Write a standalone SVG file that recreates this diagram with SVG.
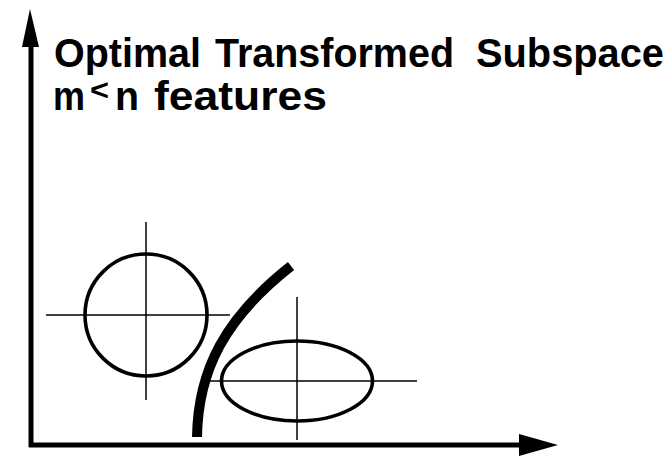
<svg xmlns="http://www.w3.org/2000/svg" width="672" height="456" viewBox="0 0 672 456">
<style>
.t{font-family:"Liberation Sans",Arial,sans-serif;font-weight:bold;fill:#000;font-size:40px}
.cross{stroke:#000;stroke-width:1.5;fill:none}
.shape{stroke:#000;stroke-width:3.6;fill:none}
.axis{stroke:#000;stroke-width:5;fill:none}
</style>
<rect width="672" height="456" fill="#fff"/>
<g id="axes">
<line class="axis" x1="31" y1="36" x2="31" y2="447"/>
<polygon points="30,9 22,47 39,47" fill="#000"/>
<line class="axis" x1="29" y1="445" x2="525" y2="445"/>
<polygon points="558,445 519,434 519,456" fill="#000"/>
</g>
<g id="title">
<text class="t" x="54" y="67" textLength="147" lengthAdjust="spacingAndGlyphs">Optimal</text>
<text class="t" x="215" y="67" textLength="239" lengthAdjust="spacingAndGlyphs">Transformed</text>
<text class="t" x="476" y="67" textLength="188" lengthAdjust="spacingAndGlyphs">Subspace</text>
<text class="t" x="53" y="110" textLength="32" lengthAdjust="spacingAndGlyphs">m</text>
<text class="t" x="90" y="100" style="font-size:30px" textLength="19" lengthAdjust="spacingAndGlyphs">&lt;</text>
<text class="t" x="115" y="110" textLength="24" lengthAdjust="spacingAndGlyphs">n</text>
<text class="t" x="154" y="110" textLength="173" lengthAdjust="spacingAndGlyphs">features</text>
</g>
<g id="class1">
<line class="cross" x1="46" y1="315" x2="230" y2="315"/>
<line class="cross" x1="146" y1="222" x2="146" y2="400"/>
<circle class="shape" cx="146" cy="315" r="61"/>
</g>
<g id="class2">
<line class="cross" x1="208" y1="381" x2="417" y2="381"/>
<line class="cross" x1="297" y1="297" x2="297" y2="440"/>
<ellipse class="shape" cx="297" cy="381" rx="75.5" ry="40"/>
</g>
<g id="boundary">
<path d="M197,437 C198,370 225,318 291,266" stroke="#000" stroke-width="10" fill="none"/>
</g>
</svg>
